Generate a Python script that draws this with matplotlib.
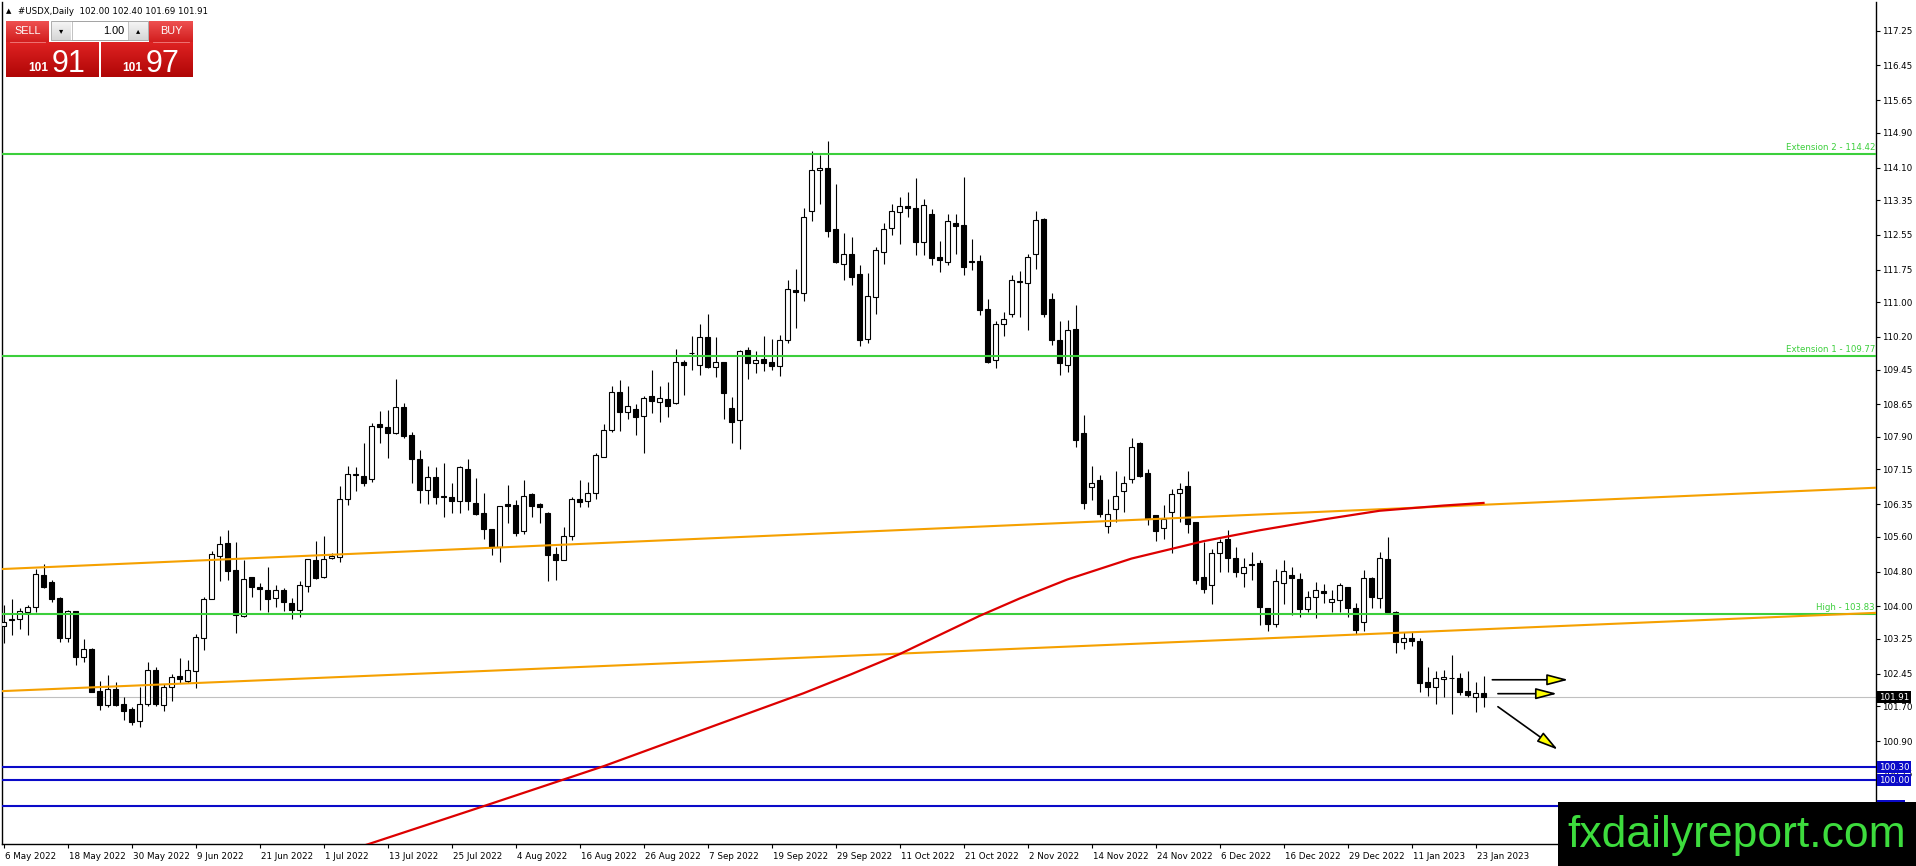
import matplotlib
matplotlib.use("Agg")
import matplotlib.pyplot as plt
import matplotlib.transforms as mtransforms
from matplotlib.colors import LinearSegmentedColormap
from matplotlib.patches import Rectangle
import numpy as np

# daily candles, 6 May 2022 .. 24 Jan 2023 (one bar per trading day)
opens = [103.55, 103.69, 103.70, 103.88, 103.98, 104.72, 104.56, 104.19, 103.26, 103.89,
         102.84, 103.01, 102.06, 101.74, 102.10, 101.76, 101.63, 101.35, 101.76, 102.53,
         101.72, 102.14, 102.40, 102.28, 102.51, 103.26, 104.18, 105.16, 105.46, 104.84,
         103.77, 104.67, 104.44, 104.38, 104.19, 104.38, 104.07, 103.92, 104.47, 105.07,
         104.67, 105.11, 105.13, 106.46, 107.03, 107.01, 106.92, 108.19, 108.12, 107.98,
         108.59, 107.95, 107.40, 106.67, 106.98, 106.55, 106.51, 106.43, 107.17, 106.39,
         106.14, 105.77, 105.36, 106.35, 106.33, 105.73, 106.58, 106.35, 106.15, 105.20,
         105.07, 105.63, 106.46, 106.43, 106.61, 107.44, 108.06, 108.93, 108.48, 108.54,
         108.39, 108.84, 108.71, 108.77, 108.68, 109.62, 109.82, 109.55, 110.19, 109.50,
         109.62, 108.56, 108.28, 109.91, 109.59, 109.69, 109.62, 109.54, 110.14, 111.29,
         111.21, 113.10, 114.04, 114.08, 112.68, 111.88, 112.12, 111.64, 110.16, 111.12,
         112.15, 112.70, 113.07, 113.22, 113.18, 112.38, 113.02, 112.03, 111.92, 112.83,
         112.78, 111.94, 111.94, 110.85, 109.66, 110.51, 110.74, 111.47, 111.45, 112.12,
         112.92, 111.08, 110.14, 109.56, 110.39, 108.00, 106.74, 106.91, 105.85, 106.23,
         106.65, 106.92, 107.77, 107.08, 106.10, 105.81, 106.18, 106.61, 106.77, 105.93,
         104.67, 104.48, 105.22, 105.54, 105.11, 104.76, 104.97, 104.99, 103.96, 103.59,
         104.53, 104.71, 104.62, 103.93, 104.21, 104.35, 104.09, 104.14, 104.44, 103.96,
         103.63, 104.65, 104.19, 105.09, 103.88, 103.17, 103.27, 103.20, 102.26, 102.15,
         102.32, 102.36, 102.35, 102.06, 101.91, 102.00]
highs = [104.03, 104.16, 103.96, 104.03, 104.87, 104.97, 104.60, 104.22, 103.92, 103.90,
         103.24, 103.03, 102.29, 102.42, 102.26, 101.91, 101.69, 102.15, 102.71, 102.60,
         102.21, 102.44, 102.81, 102.76, 103.37, 104.22, 105.28, 105.62, 105.76, 105.49,
         105.07, 104.68, 104.53, 104.91, 104.49, 104.42, 104.19, 104.58, 105.10, 105.50,
         105.62, 105.23, 106.77, 107.23, 107.20, 107.75, 108.23, 108.50, 108.53, 109.24,
         108.67, 108.01, 107.60, 107.23, 107.21, 107.30, 106.83, 107.24, 107.40, 106.95,
         106.62, 105.79, 106.32, 106.79, 106.45, 106.91, 106.62, 106.38, 106.18, 105.37,
         105.83, 106.52, 106.91, 106.86, 107.52, 108.19, 109.07, 109.22, 109.07, 108.65,
         108.83, 109.43, 109.07, 109.16, 109.93, 109.68, 110.22, 110.51, 110.74, 110.19,
         109.63, 108.81, 109.89, 109.97, 109.88, 110.22, 110.15, 110.24, 111.52, 111.76,
         113.17, 114.47, 114.38, 114.72, 113.73, 112.60, 112.50, 111.85, 111.68, 112.27,
         112.83, 113.27, 113.43, 113.53, 113.87, 113.37, 113.15, 112.40, 113.04, 113.04,
         113.89, 112.46, 112.08, 111.08, 110.57, 110.78, 111.62, 111.73, 112.12, 113.09,
         112.93, 111.21, 110.56, 110.58, 110.94, 108.40, 107.23, 107.02, 106.47, 107.12,
         107.00, 107.88, 107.78, 107.15, 106.11, 106.33, 106.69, 106.83, 107.11, 105.94,
         105.49, 105.33, 105.56, 105.76, 105.37, 105.11, 105.24, 105.07, 103.97, 104.85,
         105.07, 104.90, 104.76, 104.35, 104.57, 104.51, 104.38, 104.53, 104.45, 104.07,
         104.84, 104.67, 105.26, 105.59, 103.90, 103.42, 103.42, 103.26, 102.61, 102.52,
         102.54, 102.88, 102.46, 102.52, 102.25, 102.40]
lows = [103.15, 103.34, 103.47, 103.33, 103.88, 104.42, 104.11, 103.19, 103.17, 102.64,
        102.73, 102.02, 101.62, 101.69, 101.71, 101.39, 101.27, 101.23, 101.71, 101.71,
        101.60, 101.81, 102.23, 102.23, 102.12, 103.00, 104.17, 104.59, 104.60, 103.38,
        103.76, 104.21, 103.92, 103.86, 103.99, 103.90, 103.70, 103.76, 104.32, 104.62,
        104.66, 105.10, 105.01, 106.33, 106.66, 106.77, 106.87, 107.77, 107.42, 107.96,
        107.88, 106.84, 106.37, 106.35, 106.35, 106.06, 106.15, 106.15, 106.22, 106.10,
        105.56, 105.18, 105.01, 105.92, 105.63, 105.66, 106.05, 105.92, 104.59, 104.61,
        105.06, 105.53, 106.28, 106.28, 106.46, 107.43, 108.02, 108.03, 108.32, 107.95,
        107.53, 108.44, 108.25, 108.35, 108.65, 108.86, 109.45, 109.32, 109.49, 109.28,
        108.32, 107.76, 107.63, 109.24, 109.37, 109.42, 109.45, 109.30, 110.06, 110.41,
        111.03, 112.87, 113.26, 112.50, 111.91, 111.52, 111.40, 110.00, 110.05, 110.72,
        111.87, 112.54, 112.34, 112.97, 112.08, 112.08, 111.85, 111.69, 111.86, 112.10,
        111.62, 111.75, 110.70, 109.59, 109.49, 110.22, 110.66, 110.66, 110.37, 111.77,
        110.66, 110.01, 109.32, 109.40, 107.66, 106.23, 106.45, 106.05, 105.68, 105.95,
        106.18, 106.84, 106.98, 105.87, 105.51, 105.56, 105.22, 105.95, 105.68, 104.51,
        104.30, 104.05, 104.80, 104.78, 104.68, 104.44, 104.61, 103.56, 103.43, 103.52,
        104.05, 103.80, 103.75, 103.88, 103.73, 104.07, 103.86, 103.86, 103.75, 103.37,
        103.44, 103.96, 103.96, 103.86, 102.92, 103.01, 103.09, 102.04, 101.94, 101.75,
        101.91, 101.52, 101.95, 101.91, 101.56, 101.69]
closes = [103.65, 103.72, 103.90, 103.99, 104.74, 104.44, 104.18, 103.26, 103.89, 102.84,
          103.01, 102.04, 101.74, 102.10, 101.72, 101.60, 101.33, 101.75, 102.53, 101.75,
          102.14, 102.37, 102.32, 102.53, 103.30, 104.17, 105.20, 105.43, 104.82, 103.79,
          104.63, 104.44, 104.39, 104.16, 104.38, 104.09, 103.92, 104.48, 105.08, 104.66,
          105.08, 105.15, 106.46, 107.04, 107.05, 106.85, 108.16, 108.12, 107.99, 108.59,
          107.93, 107.40, 106.67, 106.98, 106.52, 106.51, 106.43, 107.20, 106.43, 106.12,
          105.79, 105.36, 106.31, 106.32, 105.69, 106.53, 106.32, 106.28, 105.18, 105.07,
          105.63, 106.46, 106.41, 106.61, 107.48, 108.05, 108.93, 108.48, 108.60, 108.36,
          108.79, 108.73, 108.79, 108.62, 109.62, 109.56, 109.83, 110.19, 109.50, 109.62,
          108.91, 108.25, 109.87, 109.59, 109.66, 109.59, 109.53, 110.14, 111.31, 111.24,
          112.97, 114.05, 114.09, 112.64, 111.92, 112.12, 111.58, 110.13, 111.15, 112.21,
          112.69, 113.10, 113.22, 113.18, 112.38, 113.24, 112.02, 111.97, 112.86, 112.75,
          111.81, 111.92, 110.81, 109.63, 110.51, 110.62, 111.52, 111.49, 112.04, 112.90,
          110.74, 110.14, 109.59, 110.37, 107.83, 106.39, 106.84, 106.12, 106.12, 106.54,
          106.83, 107.66, 107.01, 106.00, 105.73, 106.02, 106.58, 106.69, 105.89, 104.61,
          104.39, 105.22, 105.49, 105.11, 104.78, 104.90, 104.96, 103.98, 103.59, 104.58,
          104.81, 104.65, 103.93, 104.22, 104.37, 104.30, 104.16, 104.48, 103.96, 103.46,
          104.65, 104.22, 105.11, 103.88, 103.17, 103.26, 103.21, 102.23, 102.15, 102.34,
          102.37, 102.34, 102.04, 101.96, 102.00, 101.91]

date_labels = ['6 May 2022', '18 May 2022', '30 May 2022', '9 Jun 2022', '21 Jun 2022',
               '1 Jul 2022', '13 Jul 2022', '25 Jul 2022', '4 Aug 2022', '16 Aug 2022',
               '26 Aug 2022', '7 Sep 2022', '19 Sep 2022', '29 Sep 2022', '11 Oct 2022',
               '21 Oct 2022', '2 Nov 2022', '14 Nov 2022', '24 Nov 2022', '6 Dec 2022',
               '16 Dec 2022', '29 Dec 2022', '11 Jan 2023', '23 Jan 2023']
label_step = 8

price_ticks = [117.25, 116.45, 115.65, 114.90, 114.10, 113.35, 112.55, 111.75, 111.00,
               110.20, 109.45, 108.65, 107.90, 107.15, 106.35, 105.60, 104.80, 104.00,
               103.25, 102.45, 101.70, 100.90, 100.15]

green_levels = [114.42, 109.77, 103.83]
green_names = ['Extension 2 - 114.42', 'Extension 1 - 109.77', 'High - 103.83']
blue_levels = [100.30, 100.00, 99.40]
bid = 101.91

# trend lines, two anchors each (bar, price)
upper_trend = [(0, 104.86), (234, 106.73)]
lower_trend = [(0, 102.05), (234, 103.85)]

# red moving average
ma_bars = [40, 45, 60, 75, 90, 100, 106, 112, 117, 122, 127, 133, 141, 150, 157, 165,
           172, 180, 185]
ma_vals = [98.18, 98.49, 99.40, 100.32, 101.33, 102.00, 102.44, 102.90, 103.34, 103.78,
           104.18, 104.62, 105.10, 105.50, 105.75, 106.00, 106.20, 106.32, 106.38]

# arrow objects (bar, price)
arrow_from = [(186.1, 102.31), (186.8, 101.99), (186.8, 101.69)]
arrow_to = [(195.6, 102.31), (194.2, 101.99), (194.3, 100.70)]

W, H = 1916, 866
fig = plt.figure(figsize=(W / 100, H / 100), dpi=100)
fig.patch.set_facecolor('white')
ax = fig.add_axes([2 / W, 22 / H, 1874 / W, 842 / H])
ax.set_xlim(-0.19, 234.06)
ax.set_ylim(98.53, 117.91)

o = np.array(opens); h = np.array(highs); l = np.array(lows); c = np.array(closes)
x = np.arange(len(o))
up = c >= o
ax.vlines(x, l, h, color='black', lw=0.8, zorder=2)
bot = np.minimum(o, c)
ht = np.abs(c - o)
ax.bar(x[up], ht[up], bottom=bot[up], width=0.55, color='white', edgecolor='black', lw=0.8, zorder=3)
ax.bar(x[~up], ht[~up], bottom=bot[~up], width=0.55, color='black', edgecolor='black', lw=0.8, zorder=3)

# levels
ax.axhline(bid, color='#c0c0c0', lw=0.8, zorder=1)
trans = mtransforms.blended_transform_factory(ax.transAxes, ax.transData)
for lvl, name in zip(green_levels, green_names):
    ax.axhline(lvl, color='#3ccf3c', lw=1.5, zorder=4)
    ax.text(0.9995, lvl + 0.03, name, transform=trans, ha='right', va='bottom',
            fontsize=6.2, color='#3ccf3c', zorder=4)
for lvl in blue_levels:
    ax.axhline(lvl, color='#0a0ac8', lw=1.5, zorder=4)

ax.axline(upper_trend[0], upper_trend[1], color='#f5a000', lw=1.5, zorder=4)
ax.axline(lower_trend[0], lower_trend[1], color='#f5a000', lw=1.5, zorder=4)
ax.plot(ma_bars, ma_vals, color='#dd0000', lw=1.6, zorder=5)

for a, b in zip(arrow_from, arrow_to):
    ax.annotate('', xy=b, xytext=a, zorder=6,
                arrowprops=dict(arrowstyle='-|>,head_length=0.65,head_width=0.17',
                                mutation_scale=20, fc='#ffff00', ec='black', lw=1.2,
                                shrinkA=0, shrinkB=0))

# axes styling
ax.spines['top'].set_visible(False)
for side in ['left', 'right', 'bottom']:
    ax.spines[side].set_color('black')
    ax.spines[side].set_linewidth(1.0)
ax.yaxis.tick_right()
ax.set_yticks(price_ticks)
ax.set_yticklabels(['%.2f' % v for v in price_ticks])
ax.tick_params(axis='y', direction='out', length=3, width=0.8, pad=1.5, labelsize=6.3)
ax.set_xticks(range(0, len(o), label_step))
ax.set_xticklabels(date_labels, ha='left')
ax.tick_params(axis='x', direction='out', length=3, width=0.8, pad=3, labelsize=6.3)
off = mtransforms.ScaledTranslation(1 / 100, 0, fig.dpi_scale_trans)
for t in ax.get_xticklabels():
    t.set_transform(t.get_transform() + off)

# price boxes on the scale
for lvl in blue_levels:
    ax.text(1.0015, lvl, '%.2f' % lvl, transform=trans, ha='left', va='center',
            fontsize=6.3, color='white', zorder=7, clip_on=False,
            bbox=dict(boxstyle='square,pad=0.2', fc='#0a0ac8', ec='none'))
ax.text(1.0015, bid, '%.2f' % bid, transform=trans, ha='left', va='center',
        fontsize=6.3, color='white', zorder=7, clip_on=False,
        bbox=dict(boxstyle='square,pad=0.2', fc='black', ec='none'))

# overlay in pixel coordinates for the trading panel and banner
ov = fig.add_axes([0, 0, 1, 1], zorder=5)
ov.patch.set_alpha(0)
ov.axis('off')


def grad_box(x0, y0, x1, y1, top, bottom):
    cm = LinearSegmentedColormap.from_list('g', [top, bottom])
    ov.imshow(np.linspace(0, 1, 32).reshape(-1, 1), cmap=cm, aspect='auto',
              extent=[x0, x1, y1, y0], interpolation='bilinear')


grad_box(6, 21, 49, 42, '#ee5050', '#d21e1e')
grad_box(149, 21, 193, 42, '#ee5050', '#d21e1e')
grad_box(6, 42, 99, 77, '#de2222', '#b00606')
grad_box(101, 42, 193, 77, '#de2222', '#b00606')
grad_box(52, 21, 71, 40, '#f6f6f6', '#d6d6d6')
grad_box(129, 21, 148, 40, '#f6f6f6', '#d6d6d6')
ov.add_patch(Rectangle((72, 21), 56, 19, fc='white', ec='#b8b8b8', lw=0.6))
ov.add_patch(Rectangle((51, 21), 97, 19, fc='none', ec='#a0a0a0', lw=0.6))
ov.plot([10, 45], [41.5, 41.5], color='#f08080', lw=0.6)
ov.plot([153, 189], [41.5, 41.5], color='#f08080', lw=0.6)

ov.text(27.5, 31.5, 'SELL', color='white', fontsize=7.8, ha='center', va='center',
        family='Liberation Sans')
ov.text(171, 31.5, 'BUY', color='white', fontsize=7.8, ha='center', va='center',
        family='Liberation Sans')
ov.text(124, 30.5, '1.00', color='black', fontsize=7.8, ha='right', va='center',
        family='Liberation Sans')
ov.text(61.5, 30.5, '\u25be', color='black', fontsize=6, ha='center', va='center')
ov.text(138.5, 30.5, '\u25b4', color='black', fontsize=6, ha='center', va='center')
ov.text(48, 71, '101', color='white', fontsize=8.6, fontweight='bold', ha='right',
        va='baseline', family='Liberation Sans')
ov.text(52, 71.5, '91', color='white', fontsize=22, ha='left', va='baseline',
        family='Liberation Sans')
ov.text(142, 71, '101', color='white', fontsize=8.6, fontweight='bold', ha='right',
        va='baseline', family='Liberation Sans')
ov.text(146, 71.5, '97', color='white', fontsize=22, ha='left', va='baseline',
        family='Liberation Sans')

ov.text(9, 11, '\u25b2', fontsize=5, ha='center', va='center', color='black')
ov.text(18, 11, '#USDX,Daily  102.00 102.40 101.69 101.91', fontsize=6.2,
        ha='left', va='center', color='black')

ov.add_patch(Rectangle((1558, 802), W - 1558, H - 802, fc='black', ec='none'))
ov.text(1737, 835, 'fxdailyreport.com', color='#3ddc3d', fontsize=32,
        ha='center', va='center', family='Liberation Sans')

ov.set_xlim(0, W)
ov.set_ylim(H, 0)

fig.savefig('out.png', dpi=100)
